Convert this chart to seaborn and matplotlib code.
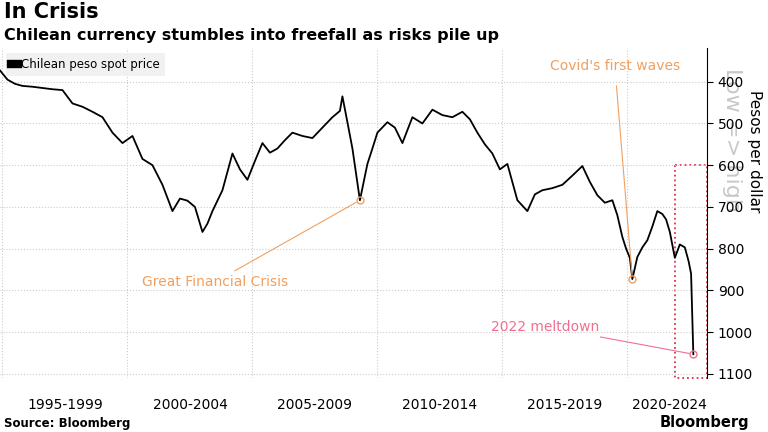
import matplotlib
matplotlib.use("Agg")
import matplotlib.pyplot as plt
import seaborn as sns
import pandas as pd
import numpy as np
from matplotlib.patches import Rectangle

years = [1994.9, 1995.2, 1995.5, 1995.8, 1996.2, 1996.6, 1997.0, 1997.4, 1997.8, 1998.2, 1998.6, 1999.0,
         1999.4, 1999.8, 2000.2, 2000.6, 2001.0, 2001.4, 2001.8, 2002.1, 2002.4, 2002.7, 2003.0, 2003.2,
         2003.4, 2003.8, 2004.2, 2004.5, 2004.8, 2005.1, 2005.4, 2005.7, 2006.0, 2006.3, 2006.6, 2007.0,
         2007.4, 2007.8, 2008.2, 2008.5, 2008.6, 2008.8, 2009.0, 2009.3, 2009.6, 2009.8, 2010.0, 2010.4,
         2010.7, 2011.0, 2011.4, 2011.8, 2012.2, 2012.6, 2013.0, 2013.4, 2013.7, 2014.0, 2014.3, 2014.6,
         2014.9, 2015.2, 2015.6, 2016.0, 2016.3, 2016.6, 2017.0, 2017.4, 2017.8, 2018.2, 2018.5, 2018.8,
         2019.1, 2019.4, 2019.6, 2019.8, 2019.95, 2020.1, 2020.2, 2020.4, 2020.6, 2020.8, 2021.0, 2021.2,
         2021.4, 2021.55, 2021.7, 2021.9, 2022.1, 2022.3, 2022.45, 2022.55, 2022.64]
peso = [373, 395, 405, 410, 412, 415, 418, 420, 452, 460, 472, 485,
        522, 547, 530, 585, 600, 647, 710, 680, 685, 700, 760, 740,
        710, 660, 572, 610, 635, 590, 547, 570, 560, 540, 522, 530,
        535, 510, 485, 470, 435, 497, 560, 684, 597, 560, 522, 497,
        510, 547, 485, 500, 467, 480, 485, 472, 490, 522, 550, 572,
        610, 597, 684, 710, 670, 660, 655, 647, 625, 602, 640, 672,
        690, 684, 720, 772, 800, 822, 873, 820, 797, 780, 747, 710,
        717, 730, 760, 822, 790, 797, 830, 860, 1053]

df = pd.DataFrame({"year": years, "peso": peso})

fig = plt.figure(figsize=(7.68, 4.32), dpi=100)
ax = fig.add_axes([0.0, 0.125, 0.921, 0.765])
sns.lineplot(data=df, x="year", y="peso", ax=ax, color="black", linewidth=1.3, label="Chilean peso spot price")

ax.set_xlim(1994.9, 2023.2)
ax.set_ylim(1110, 318)
ax.yaxis.tick_right()
ax.set_yticks([400, 500, 600, 700, 800, 900, 1000, 1100])
ax.set_yticklabels(["400", "500", "600", "700", "800", "900", "1000", "1100"])
ax.set_xticks([1995, 2000, 2005, 2010, 2015, 2020])
ax.set_xticklabels([])
ax.set_xlabel("")
ax.set_ylabel("")
ax.tick_params(axis="y", labelsize=10, length=4, direction="out")
ax.tick_params(axis="x", length=0)
ax.grid(True, color="#cccccc", linestyle=":", linewidth=0.8)
for s in ["top", "left", "bottom"]:
    ax.spines[s].set_visible(False)
ax.spines["right"].set_color("black")
fig.text(0.983, 0.65, "Pesos per dollar", fontsize=11, rotation=-90, ha="center", va="center")

periods = ["1995-1999", "2000-2004", "2005-2009", "2010-2014", "2015-2019", "2020-2024"]
centers = [1997.5, 2002.5, 2007.5, 2012.5, 2017.5, 2021.7]
for c, p in zip(centers, periods):
    ax.text(c, -0.06, p, transform=ax.get_xaxis_transform(), ha="center", va="top", fontsize=10)

ax.text(1.035, 0.72, "Low => high", transform=ax.transAxes, rotation=-90, fontsize=16,
        color="#c8c8c8", ha="center", va="center", zorder=0)

leg = ax.legend(loc="upper left", frameon=True, fontsize=8.5, handlelength=0.6, handletextpad=0.3,
                borderpad=0.4, bbox_to_anchor=(0.0, 1.0))
leg.get_frame().set_facecolor("#eeeeee")
leg.get_frame().set_edgecolor("none")
leg.get_frame().set_boxstyle("square", pad=0)
for h in leg.legend_handles:
    h.set_linewidth(6)

orange = "#f0a060"
pink = "#f07090"
ax.plot([2009.3], [684], marker="o", mfc="none", mec=orange, ms=5)
ax.annotate("Great Financial Crisis", xy=(2009.3, 684), xytext=(2003.5, 880), fontsize=10, color=orange,
            ha="center", va="center", arrowprops=dict(arrowstyle="-", color=orange, lw=0.8, shrinkA=2, shrinkB=3))
ax.plot([2020.2], [873], marker="o", mfc="none", mec=orange, ms=5)
ax.annotate("Covid's first waves", xy=(2020.2, 873), xytext=(2019.5, 363), fontsize=10, color=orange,
            ha="center", va="center", arrowprops=dict(arrowstyle="-", color=orange, lw=0.8, shrinkA=7, shrinkB=3))
ax.plot([2022.64], [1053], marker="o", mfc="none", mec=pink, ms=5)
ax.annotate("2022 meltdown", xy=(2022.64, 1053), xytext=(2016.7, 987), fontsize=10, color=pink,
            ha="center", va="center", arrowprops=dict(arrowstyle="-", color=pink, lw=0.8, shrinkA=2, shrinkB=3))
ax.add_patch(Rectangle((2021.9, 600), 1.28, 510, fill=False, edgecolor="#e03050", linestyle=":", lw=1.3, clip_on=False))

fig.text(0.005, 0.995, "In Crisis", fontsize=15, fontweight="bold", va="top")
fig.text(0.005, 0.935, "Chilean currency stumbles into freefall as risks pile up", fontsize=11.5, fontweight="bold", va="top")
fig.text(0.005, 0.005, "Source: Bloomberg", fontsize=8.5, fontweight="bold", va="bottom")
fig.text(0.975, 0.005, "Bloomberg", fontsize=10.5, fontweight="bold", va="bottom", ha="right")

fig.savefig("out.png", dpi=100)
